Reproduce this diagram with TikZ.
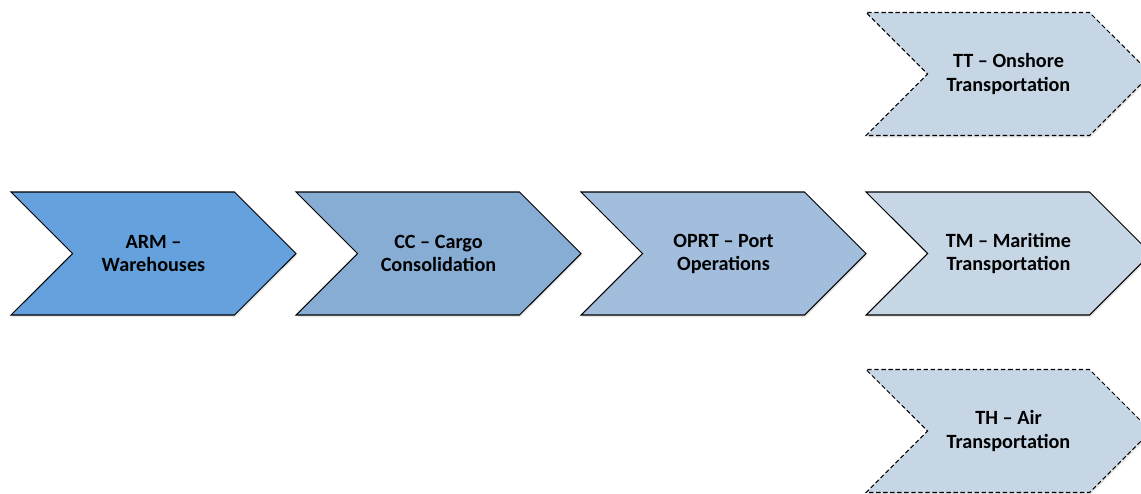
\documentclass[tikz,border=0pt]{standalone}
\usepackage{fontspec}
\setmainfont{Carlito}
\definecolor{armblue}{RGB}{100, 161, 221}
\definecolor{ccblue}{RGB}{135, 173, 213}
\definecolor{oprtblue}{RGB}{162, 190, 220}
\definecolor{transblue}{RGB}{198, 214, 229}
\usetikzlibrary{shapes.symbols, positioning, shadows}

\begin{document}
\begin{tikzpicture}[
  chev/.style={draw, line width=0.6pt, shape=signal, signal to=east, signal from=west, signal pointer angle=90, minimum width=5.7cm, minimum height=2.46cm, inner sep=0pt, align=center, font=\fontsize{11.5}{13.1}\selectfont\bfseries, drop shadow={opacity=0.2, shadow xshift=0.02cm, shadow yshift=-0.04cm}},
  option/.style={chev, dash pattern=on 2.5pt off 1.5pt, fill=transblue}
]
  \useasboundingbox (0,0) rectangle (22.82,9.86);
  \clip (0,0) rectangle (22.82,9.86);
  \node[chev, fill=armblue] (arm) at (3.07, 4.79) {ARM --\\Warehouses};
  \node[chev, fill=ccblue] (cc) at (8.77, 4.79) {CC -- Cargo\\Consolidation};
  \node[chev, fill=oprtblue] (oprt) at (14.47, 4.79) {OPRT -- Port\\Operations};
  \node[chev, fill=transblue] (tm) at (20.17, 4.79) {TM -- Maritime\\Transportation};
  \node[option] (tt) at (20.17, 8.38) {TT -- Onshore\\Transportation};
  \node[option] (th) at (20.17, 1.24) {TH -- Air\\Transportation};
\end{tikzpicture}
\end{document}
